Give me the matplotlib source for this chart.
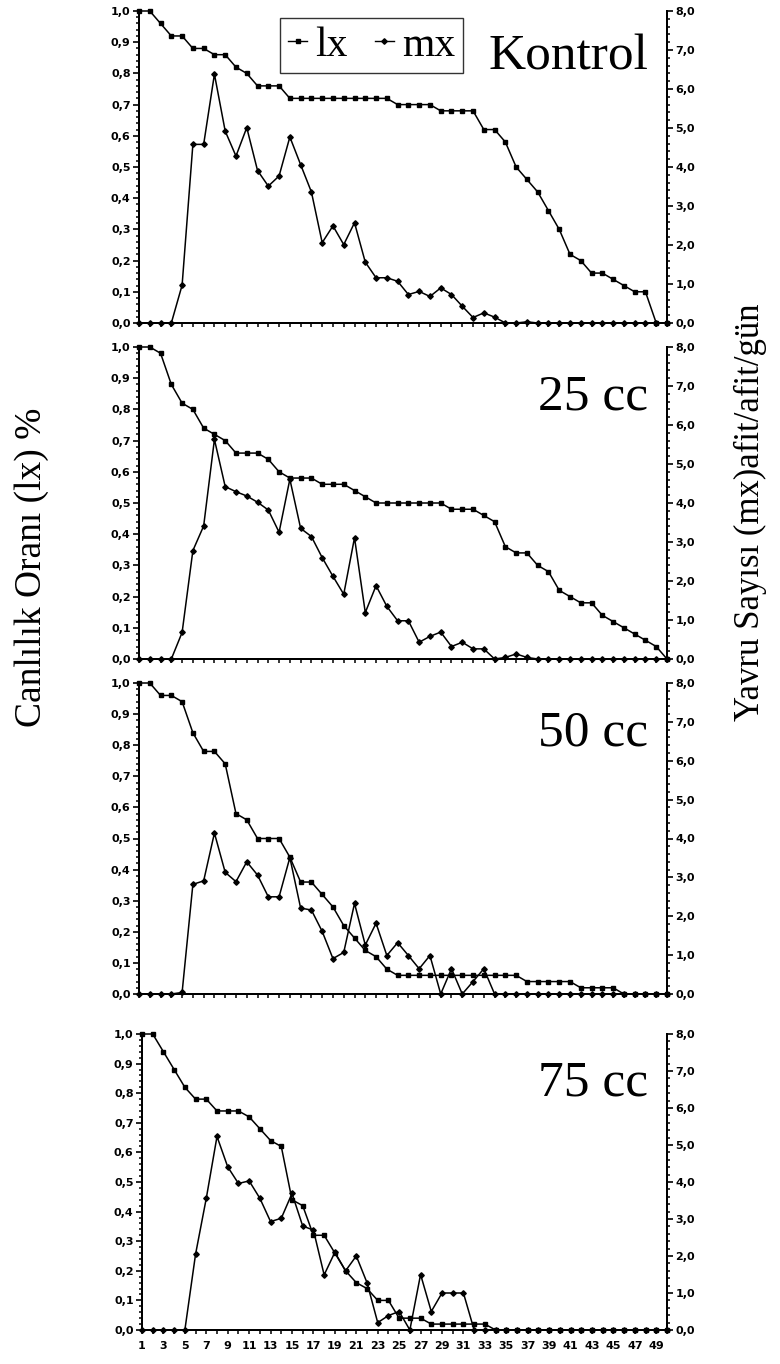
import numpy as np
import matplotlib
matplotlib.use("Agg")
import matplotlib.pyplot as plt
from matplotlib.lines import Line2D
from matplotlib.ticker import MultipleLocator, FuncFormatter

# ---- data ----
days = list(range(1, 51))
groups = ["Kontrol", "25 cc", "50 cc", "75 cc"]

lx_kontrol = [1.0, 1.0, 0.96, 0.92, 0.92, 0.88, 0.88, 0.86, 0.86, 0.82,
              0.80, 0.76, 0.76, 0.76, 0.72, 0.72, 0.72, 0.72, 0.72, 0.72,
              0.72, 0.72, 0.72, 0.72, 0.70, 0.70, 0.70, 0.70, 0.68, 0.68,
              0.68, 0.68, 0.62, 0.62, 0.58, 0.50, 0.46, 0.42, 0.36, 0.30,
              0.22, 0.20, 0.16, 0.16, 0.14, 0.12, 0.10, 0.10, 0.0, 0.0]
mx_kontrol = [0, 0, 0, 0, 0.97, 4.58, 4.58, 6.38, 4.92, 4.28,
              5.01, 3.91, 3.51, 3.77, 4.77, 4.06, 3.36, 2.06, 2.49, 2.01,
              2.57, 1.56, 1.16, 1.16, 1.07, 0.73, 0.81, 0.68, 0.90, 0.73,
              0.43, 0.14, 0.26, 0.15, 0, 0, 0.03, 0, 0, 0,
              0, 0, 0, 0, 0, 0, 0, 0, 0, 0]

lx_25 = [1.0, 1.0, 0.98, 0.88, 0.82, 0.80, 0.74, 0.72, 0.70, 0.66,
         0.66, 0.66, 0.64, 0.60, 0.58, 0.58, 0.58, 0.56, 0.56, 0.56,
         0.54, 0.52, 0.50, 0.50, 0.50, 0.50, 0.50, 0.50, 0.50, 0.48,
         0.48, 0.48, 0.46, 0.44, 0.36, 0.34, 0.34, 0.30, 0.28, 0.22,
         0.20, 0.18, 0.18, 0.14, 0.12, 0.10, 0.08, 0.06, 0.04, 0.0]
mx_25 = [0, 0, 0, 0, 0.68, 2.78, 3.41, 5.63, 4.42, 4.29,
         4.18, 4.02, 3.82, 3.25, 4.61, 3.35, 3.14, 2.60, 2.12, 1.66,
         3.11, 1.19, 1.88, 1.35, 0.98, 0.98, 0.43, 0.58, 0.69, 0.32,
         0.43, 0.26, 0.26, 0, 0.04, 0.13, 0.04, 0, 0, 0,
         0, 0, 0, 0, 0, 0, 0, 0, 0, 0]

lx_50 = [1.0, 1.0, 0.96, 0.96, 0.94, 0.84, 0.78, 0.78, 0.74, 0.58,
         0.56, 0.50, 0.50, 0.50, 0.44, 0.36, 0.36, 0.32, 0.28, 0.22,
         0.18, 0.14, 0.12, 0.08, 0.06, 0.06, 0.06, 0.06, 0.06, 0.06,
         0.06, 0.06, 0.06, 0.06, 0.06, 0.06, 0.04, 0.04, 0.04, 0.04,
         0.04, 0.02, 0.02, 0.02, 0.02, 0.0, 0.0, 0.0, 0.0, 0.0]
mx_50 = [0, 0, 0, 0, 0.04, 2.82, 2.91, 4.14, 3.13, 2.89,
         3.40, 3.06, 2.50, 2.50, 3.51, 2.21, 2.16, 1.61, 0.91, 1.07,
         2.33, 1.26, 1.82, 0.99, 1.32, 0.99, 0.65, 0.99, 0, 0.65,
         0, 0.32, 0.65, 0, 0, 0, 0, 0, 0, 0,
         0, 0, 0, 0, 0, 0, 0, 0, 0, 0]

lx_75 = [1.0, 1.0, 0.94, 0.88, 0.82, 0.78, 0.78, 0.74, 0.74, 0.74,
         0.72, 0.68, 0.64, 0.62, 0.44, 0.42, 0.32, 0.32, 0.26, 0.20,
         0.16, 0.14, 0.10, 0.10, 0.04, 0.04, 0.04, 0.02, 0.02, 0.02,
         0.02, 0.02, 0.02, 0.0, 0.0, 0.0, 0.0, 0.0, 0.0, 0.0,
         0.0, 0.0, 0.0, 0.0, 0.0, 0.0, 0.0, 0.0, 0.0, 0.0]
mx_75 = [0, 0, 0, 0, 0, 2.05, 3.56, 5.23, 4.41, 3.96,
         4.03, 3.56, 2.93, 3.02, 3.69, 2.81, 2.70, 1.49, 2.10, 1.60,
         2.0, 1.28, 0.20, 0.39, 0.50, 0, 1.50, 0.50, 1.0, 1.0,
         1.0, 0, 0, 0, 0, 0, 0, 0, 0, 0,
         0, 0, 0, 0, 0, 0, 0, 0, 0, 0]

lx_all = [lx_kontrol, lx_25, lx_50, lx_75]
mx_all = [mx_kontrol, mx_25, mx_50, mx_75]

# ---- layout in pixels (left, top, right, bottom) ----
W, H = 780, 1364
boxes = [(139, 11, 667, 323),
         (139, 347, 667, 659),
         (139, 683, 667, 994),
         (142, 1034, 667, 1330)]
title_pos = [(648, 70), (648, 410), (648, 745), (648, 1095)]

comma = FuncFormatter(lambda v, p: f"{v:.1f}".replace(".", ","))

fig = plt.figure(figsize=(W / 100, H / 100), dpi=100)

for i, (lx, mx) in enumerate(zip(lx_all, mx_all)):
    l, t, r, b = boxes[i]
    ax = fig.add_axes([l / W, 1 - b / H, (r - l) / W, (b - t) / H])
    ax2 = ax.twinx()

    ax.plot(days, lx, color="black", lw=1.1, marker="s", ms=3.4,
            mec="black", mfc="black", clip_on=False, zorder=3)
    ax2.plot(days, mx, color="black", lw=1.1, marker="D", ms=2.8,
             mec="black", mfc="black", clip_on=False, zorder=3)

    ax.set_xlim(1, 50)
    ax.set_ylim(0, 1.0)
    ax2.set_ylim(0, 8.0)

    ax.yaxis.set_major_locator(MultipleLocator(0.1))
    ax.yaxis.set_minor_locator(MultipleLocator(0.02))
    ax2.yaxis.set_major_locator(MultipleLocator(1.0))
    ax2.yaxis.set_minor_locator(MultipleLocator(0.2))
    ax.yaxis.set_major_formatter(comma)
    ax2.yaxis.set_major_formatter(comma)

    ax.set_xticks(days)
    if i == 3:
        ax.set_xticklabels([str(d) if d % 2 == 1 else "" for d in days])
    else:
        ax.set_xticklabels([])

    for a in (ax, ax2):
        a.spines["top"].set_visible(False)
        for s in ("left", "right", "bottom"):
            a.spines[s].set_linewidth(1.4)
        a.tick_params(which="major", direction="out", length=4, width=1.2,
                      pad=2)
        a.tick_params(which="minor", direction="out", length=2.5, width=1.1)
    ax.tick_params(axis="x", length=3, width=1.1, pad=5)
    for lab in ax.get_yticklabels() + ax2.get_yticklabels() + ax.get_xticklabels():
        lab.set_fontfamily("DejaVu Sans")
        lab.set_fontweight("bold")
        lab.set_fontsize(8)

    tx, ty = title_pos[i]
    fig.text(tx / W, 1 - ty / H, groups[i], family="Liberation Serif",
             fontsize=37, ha="right", va="baseline")

# legend on the top panel
handles = [Line2D([], [], color="black", lw=1.0, marker="s", ms=3.4),
           Line2D([], [], color="black", lw=1.0, marker="D", ms=2.8)]
leg = fig.legend(handles, ["lx", "mx"], loc="upper left",
                 bbox_to_anchor=(280 / W, 1 - 18 / H), ncol=2,
                 prop=dict(family="Liberation Serif", size=30),
                 frameon=True, fancybox=False, edgecolor="black",
                 handlelength=0.45, handletextpad=0.2, columnspacing=0.65,
                 borderpad=0.2, borderaxespad=0)
leg.get_frame().set_linewidth(1.0)

fig.text(32 / W, 1 - 567 / H, "Canlılık Oranı (lx) %", rotation=90,
         family="Liberation Serif", fontsize=27, ha="center", va="center")
fig.text(750 / W, 1 - 512 / H, "Yavru Sayısı (mx)afit/afit/gün", rotation=90,
         family="Liberation Serif", fontsize=25, ha="center", va="center")

fig.savefig("out.png", dpi=100)
